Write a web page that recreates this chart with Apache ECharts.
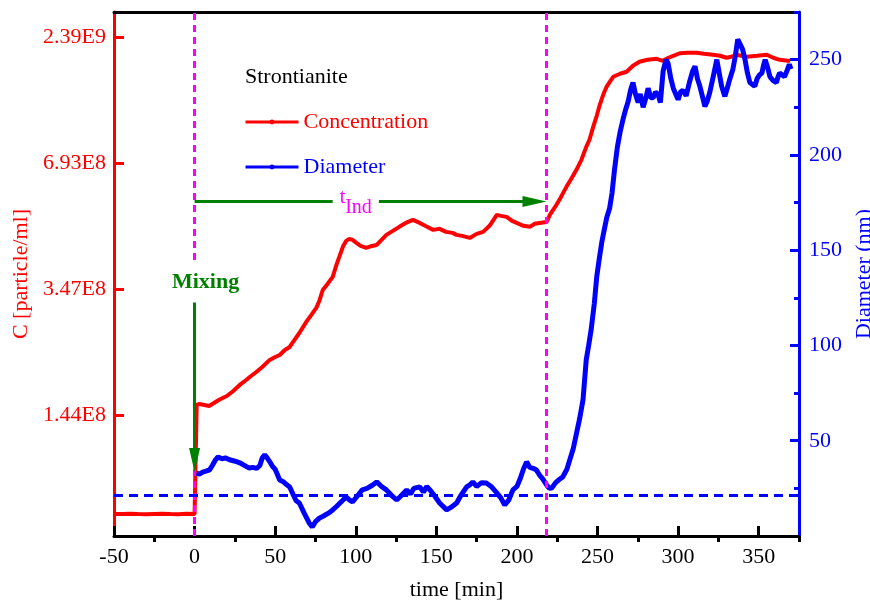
<!DOCTYPE html>
<html>
<head>
<meta charset="utf-8">
<script src="https://cdn.jsdelivr.net/npm/echarts@6/dist/echarts.min.js"></script>
<style>html,body{margin:0;padding:0;background:#fff}#c{width:870px;height:601px}</style>
</head>
<body>
<div id="c"></div>
<script>
// ---- data ----
// Concentration: time [min] and position on the left axis, in tick units (1 = 1.44E8 ... 4 = 2.39E9)
const concTime = [-50,-45,-40,-35,-30,-25,-20,-15,-10,-5,0,1,1.3,3,6,9,12,15,17.4,20,24,28,32,35,38.3,42,46.6,50,52.8,56,59,62,65,69.3,72,75.5,77.6,79.5,82,85.7,88,90,92,94,96,98,100.4,103,106.5,110,113,116,119,123,127,131,135.5,139.7,143,148,152,156,160,162.5,166,170.7,175,179,183,187.5,190,193.6,197,199.8,204,208,211,214,218.4,220.4,224.5,227,230.7,234,236.9,240,243,245,247.3,249.5,251.4,253.5,255.6,257.6,259.7,264,268,272,276,281,286.8,290.5,294,297,301,306,311.6,316,321.5,326,330,333,336,342.6,349,355,359,363,368,369.5];
const concLevel = [0.213,0.212,0.215,0.212,0.211,0.213,0.214,0.212,0.211,0.214,0.213,0.213,1.080,1.088,1.080,1.072,1.095,1.119,1.135,1.151,1.191,1.239,1.278,1.310,1.342,1.382,1.438,1.461,1.477,1.517,1.541,1.597,1.652,1.740,1.788,1.851,1.915,1.994,2.034,2.098,2.193,2.265,2.337,2.384,2.400,2.392,2.368,2.344,2.329,2.344,2.352,2.392,2.432,2.464,2.496,2.527,2.551,2.527,2.504,2.472,2.480,2.456,2.448,2.432,2.424,2.408,2.440,2.456,2.504,2.591,2.583,2.575,2.543,2.527,2.504,2.496,2.520,2.527,2.535,2.591,2.671,2.726,2.814,2.885,2.949,3.029,3.132,3.188,3.291,3.379,3.466,3.546,3.609,3.649,3.689,3.713,3.729,3.777,3.808,3.824,3.832,3.816,3.840,3.856,3.876,3.880,3.880,3.872,3.864,3.856,3.840,3.848,3.864,3.848,3.856,3.864,3.840,3.824,3.816,3.816];

// Diameter: time [min] and nm
const diamTime = [1.2,3,5,7,9.3,11,13,14.5,17,19,21.7,24,26,28,30,32,34,36,38.5,40.5,42,43.5,45,47,48.5,50,52.8,55,57,59,61,63,65,68,71,73,75,77.6,80,83,85.7,88,91,94,96,98,101,104,107,110,113,116,119,122,125.4,128,131.6,134,136,139.7,142,144,146,149,152,156.4,159,162.6,165,168.8,171,172.6,175,178,181,184,187.5,190,192.4,195,197.5,200,202,204,206,208,210,212,214,216,218.4,220,221.6,224,226,228.4,231,232.8,235,237,239,241,243,244.5,246,248,249.5,251,252.6,254,255.7,257.5,259,260.5,262.3,264,265.8,267.5,269,270.5,272,273.5,275.2,276.5,278.3,280,281.4,283,284.5,286,287.6,289,290.7,292.5,293.8,295.5,297,298.5,300,301.5,303,305,307,309,310.5,312,313.5,315,316.6,318,319.7,321.5,323,324,325.5,327,329,330.5,332,334,335.5,337,338.5,340,341.5,343,344.5,346,347.6,349,350.5,352,353,354,355.5,357,359,361,362,363,364.5,366,367.5,369,370];
const diamNm = [33,32.5,33.5,34,34.7,37,40,41.5,40.5,41,40,39.5,39,38.4,37.5,36.5,35.7,36,35.5,37,41,42.6,41,38.5,36.3,35,29.4,28.5,27,25.7,22,18.5,17.3,12,7,4.7,7.5,9.5,10.5,12,13.7,15.5,18,20.5,19,17.9,21,24.2,25,26.5,28.4,26,24.2,21.5,18.9,21,24.2,22,25,25.8,23,26,24.2,21,17.3,13.7,15,17.3,21,25.8,27,28.4,26,28,27.8,26,22.6,20,16.3,19,24.2,26,30,35,38.9,36,35.5,34.7,32,30,26.8,25,25.2,28,29.5,31,35,40,46,54,62,71.5,92.5,100,108,122,136,145,154,160,167,172,180,192,204,212,218.6,224,228,234,238,232,227.5,232,225,230,235,230,230,233,231.7,227.5,244,250,248,240,235,232,229,233,234,231,238,244,246.5,240,236,231,225.4,228,233,240,246,250,243,236,230.7,235,239.6,245,252,260.6,258,255.4,250,243,238,237,236,240,242,243,247,250,246,241,239,238,241,243,242,241,244,247.5,245];

// axis ticks
const concTickLevel = [1, 2, 3, 4];
const concTickText = ['1.44E8', '3.47E8', '6.93E8', '2.39E9'];
const timeMajor = [-50, 0, 50, 100, 150, 200, 250, 300, 350];
const timeMinor = [-25, 25, 75, 125, 175, 225, 275, 325, 375];
const diamMajor = [50, 100, 150, 200, 250];
const diamMinor = [25, 75, 125, 175, 225, 275];

// annotations (data units: time, nm)
const mixTime = 0;
const indTime = 218.3;
const baselineNm = 21.5;
const indArrowNm = 175.5;
const indArrowEnd = 210.9;     // arrow head centre (tip lands at indTime)
const mixArrowTopNm = 123;
const mixArrowEndNm = 39.9;    // arrow head centre
const indLabelPos = [100, 175.5];
const mixLabelPos = [6.8, 133];

const F = "'Liberation Serif','Times New Roman',serif";
const RED = '#ff0000', BLUE = '#0000ff', MAG = '#ff00ff', GRN = '#008000';

const concData = concTime.map((t, i) => [t, concLevel[i]]);
const diamData = diamTime.map((t, i) => [t, diamNm[i]]);

const chart = echarts.init(document.getElementById('c'), null, {renderer: 'canvas'});
const option = {
  animation: false,
  backgroundColor: '#ffffff',
  textStyle: {fontFamily: F},
  title: {
    text: 'Strontianite', left: 245, top: 66, padding: 0,
    textStyle: {fontFamily: F, fontSize: 22, fontWeight: 'normal', color: '#000'}
  },
  legend: {
    orient: 'vertical', left: 244, top: 111, padding: 0,
    itemWidth: 53, itemHeight: 6, itemGap: 23,
    lineStyle: {width: 3},
    textStyle: {fontFamily: F, fontSize: 22, lineHeight: 22},
    data: [
      {name: 'Concentration', textStyle: {color: RED}},
      {name: 'Diameter', textStyle: {color: BLUE}}
    ]
  },
  grid: {left: 114, right: 71, top: 12, bottom: 65, containLabel: false, outerBoundsMode: 'none'},
  xAxis: [
    {
      type: 'value', min: -50, max: 375, position: 'bottom',
      axisLine: {onZero: false, lineStyle: {color: '#000', width: 3}},
      axisTick: {show: true, inside: true, length: 10, customValues: timeMajor, lineStyle: {color: '#000', width: 3}},
      axisLabel: {customValues: timeMajor, color: '#000', fontFamily: F, fontSize: 22, margin: 10},
      splitLine: {show: false},
      name: 'time [min]', nameLocation: 'middle', nameGap: 43,
      nameTextStyle: {color: '#000', fontFamily: F, fontSize: 22}
    },
    {
      type: 'value', min: -50, max: 375, position: 'bottom',
      axisLine: {show: false, onZero: false},
      axisTick: {show: true, inside: false, length: 6, customValues: timeMinor, lineStyle: {color: '#000', width: 3}},
      axisLabel: {show: false}, splitLine: {show: false}
    },
    {
      type: 'value', min: -50, max: 375, position: 'top',
      axisLine: {show: true, onZero: false, lineStyle: {color: '#000', width: 3}},
      axisTick: {show: false}, axisLabel: {show: false}, splitLine: {show: false}
    }
  ],
  yAxis: [
    {
      type: 'value', min: 0.038, max: 4.204, position: 'left',
      axisLine: {show: true, onZero: false, lineStyle: {color: RED, width: 3}},
      axisTick: {show: true, inside: true, length: 10, customValues: concTickLevel, lineStyle: {color: RED, width: 3}},
      axisLabel: {
        customValues: concTickLevel, color: RED, fontFamily: F, fontSize: 22, margin: 8,
        formatter: v => { const i = concTickLevel.indexOf(v); return i >= 0 ? concTickText[i] : ''; }
      },
      splitLine: {show: false},
      name: 'C [particle/ml]', nameLocation: 'middle', nameRotate: 90, nameGap: 74,
      nameTextStyle: {color: RED, fontFamily: F, fontSize: 22}
    },
    {
      type: 'value', min: 0, max: 275, position: 'right',
      axisLine: {show: true, onZero: false, lineStyle: {color: BLUE, width: 3}},
      axisTick: {show: true, inside: true, length: 9, customValues: diamMajor, lineStyle: {color: BLUE, width: 3}},
      axisLabel: {customValues: diamMajor, color: BLUE, fontFamily: F, fontSize: 22, margin: 10},
      splitLine: {show: false},
      name: 'Diameter (nm)', nameLocation: 'middle', nameRotate: 90, nameGap: 45,
      nameTextStyle: {color: BLUE, fontFamily: F, fontSize: 22}
    },
    {
      type: 'value', min: 0, max: 275, position: 'right',
      axisLine: {show: false, onZero: false},
      axisTick: {show: true, inside: true, length: 5, customValues: diamMinor, lineStyle: {color: BLUE, width: 3}},
      axisLabel: {show: false}, splitLine: {show: false}
    }
  ],
  series: [
    {
      name: 'Concentration', type: 'line', xAxisIndex: 0, yAxisIndex: 0,
      data: concData, showSymbol: false, symbol: 'circle', symbolSize: 4,
      lineStyle: {color: RED, width: 4}, itemStyle: {color: RED}, z: 2
    },
    {
      name: 'Diameter', type: 'line', xAxisIndex: 0, yAxisIndex: 1,
      data: diamData, showSymbol: false, symbol: 'circle', symbolSize: 4,
      lineStyle: {color: BLUE, width: 5}, itemStyle: {color: BLUE}, z: 3,
      markLine: {
        silent: true, symbol: ['none', 'none'], label: {show: false},
        data: [
          {xAxis: mixTime, lineStyle: {color: MAG, width: 3, type: [7, 5]}},
          {xAxis: indTime, lineStyle: {color: MAG, width: 3, type: [7, 5]}},
          {yAxis: baselineNm, lineStyle: {color: BLUE, width: 3, type: [9, 6]}},
          [
            {coord: [mixTime, indArrowNm], symbol: 'none'},
            {coord: [indArrowEnd, indArrowNm], symbol: 'triangle', symbolSize: [11, 24], lineStyle: {color: GRN, width: 3, type: 'solid'}, itemStyle: {color: GRN}}
          ],
          [
            {coord: [mixTime, mixArrowTopNm], symbol: 'none'},
            {coord: [mixTime, mixArrowEndNm], symbol: 'triangle', symbolSize: [11, 24], lineStyle: {color: GRN, width: 3, type: 'solid'}, itemStyle: {color: GRN}}
          ]
        ]
      }
    }
  ]
};
chart.setOption(option);

// text annotations placed through the chart's own scales
const toPx = p => chart.convertToPixel({xAxisIndex: 0, yAxisIndex: 1}, p);
const pInd = toPx(indLabelPos);
const pMix = toPx(mixLabelPos);
chart.setOption({
  graphic: [
    {
      type: 'text', x: pInd[0], y: pInd[1] + 1, z: 100,
      style: {
        text: '{t|t}{i|Ind}', align: 'center', verticalAlign: 'middle',
        backgroundColor: '#ffffff', padding: [0, 7],
        rich: {
          t: {fontFamily: F, fontSize: 20, fill: MAG, verticalAlign: 'top', lineHeight: 20},
          i: {fontFamily: F, fontSize: 20, fill: MAG, verticalAlign: 'bottom', lineHeight: 30}
        }
      }
    },
    {
      type: 'text', x: pMix[0], y: pMix[1], z: 100,
      style: {
        text: 'Mixing', align: 'center', verticalAlign: 'middle',
        backgroundColor: '#ffffff', padding: [9, 3],
        fontFamily: F, fontSize: 22, fontWeight: 'bold', fill: GRN
      }
    }
  ]
});
</script>
</body>
</html>
